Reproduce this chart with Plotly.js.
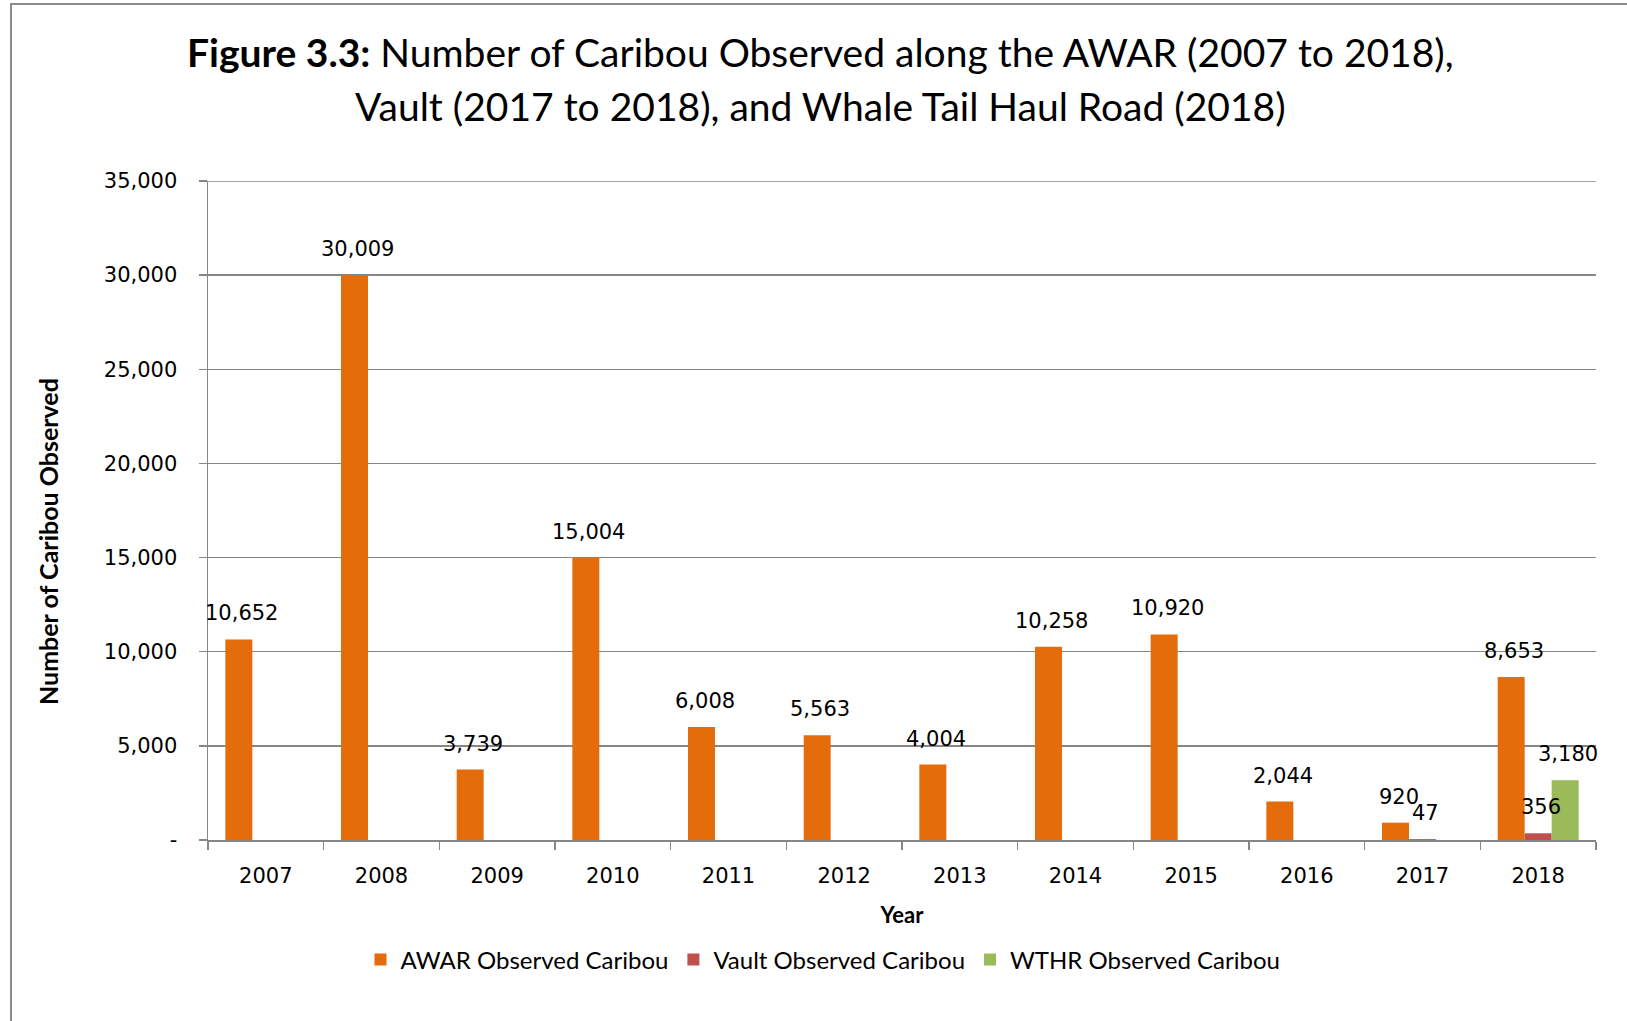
<!DOCTYPE html>
<html>
<head>
<meta charset="utf-8">
<script src="https://cdn.plot.ly/plotly-3.0.1.min.js"></script>
<style>
  html, body { margin: 0; padding: 0; background: #fff; }
  #wrap { position: relative; width: 1627px; height: 1021px; }
  #chart { position: absolute; left: 0; top: 0; width: 1627px; height: 1021px; }
  #frame { position: absolute; left: 10px; top: 3px; width: 1640px; height: 1040px;
           border-left: 2px solid #8c8c8c; border-top: 2px solid #8c8c8c; pointer-events: none; }
</style>
</head>
<body>
<div id="wrap">
  <div id="chart"></div>
  <div id="frame"></div>
</div>
<script>
const years = ['2007','2008','2009','2010','2011','2012','2013','2014','2015','2016','2017','2018'];
const awarCaribou  = [10652, 30009, 3739, 15004, 6008, 5563, 4004, 10258, 10920, 2044, 920, 8653];
const vaultCaribou = [null, null, null, null, null, null, null, null, null, null, 47, 356];
const wthrCaribou  = [null, null, null, null, null, null, null, null, null, null, null, 3180];
const seriesNames  = ['AWAR Observed Caribou', 'Vault Observed Caribou', 'WTHR Observed Caribou'];
const yTickVals = [0, 5000, 10000, 15000, 20000, 25000, 30000, 35000];
const yTickText = ['-', '5,000', '10,000', '15,000', '20,000', '25,000', '30,000', '35,000'];
const titleLine1 = '<b>Figure 3.3:</b> Number of Caribou Observed along the AWAR (2007 to 2018),';
const titleLine2 = 'Vault (2017 to 2018), and Whale Tail Haul Road (2018)';

const colors = ['#E46C0A', '#C0504D', '#9BBB59'];
const series = [awarCaribou, vaultCaribou, wthrCaribou];

const W = 1627, H = 1021;
const mL = 208, mR = 31, mT = 181, mB = 181;
const plotW = W - mL - mR;
const plotH = H - mT - mB;
const bargap = 0.30;
const catW = plotW / years.length;
const barW = catW * (1 - bargap) / series.length;

const labelFont = { family: 'DejaVu Sans', size: 21, color: '#000' };
const px2py = (py) => (H - mB - py) / plotH;
const px2px = (px) => (px - mL) / plotW;

const traces = series.map((vals, i) => ({
  type: 'bar',
  name: seriesNames[i],
  x: years,
  y: vals,
  marker: { color: colors[i] },
  hoverinfo: 'x+y'
}));

const annotations = [];
series.forEach((vals, i) => {
  vals.forEach((v, j) => {
    if (v === null) return;
    annotations.push({
      x: j, y: v, xref: 'x', yref: 'y',
      text: v.toLocaleString('en-US'),
      showarrow: false,
      xanchor: 'center', yanchor: 'middle',
      xshift: (i - 1) * barW + 3,
      yshift: 26,
      font: labelFont
    });
  });
});

annotations.push({
  text: '<b>Number of Caribou Observed</b>',
  xref: 'paper', yref: 'paper',
  x: px2px(48), y: px2py(542),
  xanchor: 'center', yanchor: 'middle',
  textangle: -90, showarrow: false,
  font: { family: 'Lato', size: 25, color: '#000' }
});
annotations.push({
  text: titleLine1, xref: 'paper', yref: 'paper',
  x: px2px(820), y: px2py(52), xanchor: 'center', yanchor: 'middle',
  showarrow: false, font: { family: 'Lato', size: 39, color: '#000' }
});
annotations.push({
  text: titleLine2, xref: 'paper', yref: 'paper',
  x: px2px(820), y: px2py(106), xanchor: 'center', yanchor: 'middle',
  showarrow: false, font: { family: 'Lato', size: 39, color: '#000' }
});

const layout = {
  width: W, height: H,
  margin: { l: mL, r: mR, t: mT, b: mB, pad: 0 },
  paper_bgcolor: 'rgba(0,0,0,0)',
  plot_bgcolor: '#fff',
  barmode: 'group',
  bargap: bargap,
  bargroupgap: 0,
  showlegend: true,
  legend: {
    orientation: 'h',
    x: px2px(823), xanchor: 'center',
    y: px2py(960), yanchor: 'middle',
    font: { family: 'Lato', size: 24, color: '#000' },
    traceorder: 'normal'
  },
  xaxis: {
    type: 'category',
    range: [-0.5, years.length - 0.5],
    autorange: false,
    tickson: 'boundaries',
    ticks: 'outside', ticklen: 8, tickcolor: '#868686', tickwidth: 1.5,
    showline: true, linecolor: '#868686', linewidth: 1.5,
    showgrid: false,
    tickangle: 0,
    tickfont: { family: 'DejaVu Sans', size: 21, color: '#000' },
    ticklabelstandoff: 16,
    title: { text: '<b>Year</b>', font: { family: 'Lato', size: 22, color: '#000' }, standoff: 21 }
  },
  yaxis: {
    range: [0, 35000],
    autorange: false,
    tickvals: yTickVals, ticktext: yTickText,
    ticks: 'outside', ticklen: 8, tickcolor: '#868686', tickwidth: 1.5,
    showline: true, linecolor: '#868686', linewidth: 1.5,
    showgrid: true, gridcolor: '#868686', gridwidth: 1.5,
    zeroline: false,
    tickfont: { family: 'DejaVu Sans', size: 21, color: '#000' },
    ticklabelstandoff: 17
  },
  shapes: [{
    type: 'line', xref: 'paper', yref: 'y',
    x0: 0, x1: 1, y0: yTickVals[yTickVals.length - 1], y1: yTickVals[yTickVals.length - 1],
    line: { color: '#868686', width: 1.5 }, layer: 'below'
  }],
  annotations: annotations
};

Plotly.newPlot('chart', traces, layout, { displayModeBar: false, staticPlot: true });
</script>
</body>
</html>
